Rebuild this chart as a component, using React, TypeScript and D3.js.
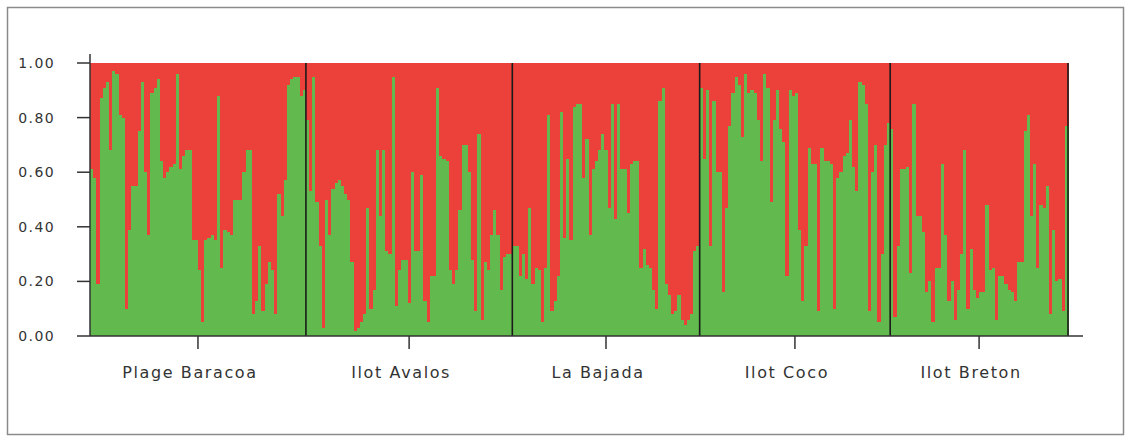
import React from "react";
import * as d3 from "d3";

const populations = ["Plage Baracoa", "Ilot Avalos", "La Bajada", "Ilot Coco", "Ilot Breton"];

// proportion of green cluster (q) for each individual; red = 1 - q
const plageBaracoa = [
  0.61, 0.58, 0.19, 0.87, 0.91, 0.93, 0.68, 0.97, 0.96, 0.81, 0.80, 0.10, 0.39, 0.55, 0.55, 0.75,
  0.93, 0.60, 0.37, 0.89, 0.91, 0.94, 0.64, 0.58, 0.60, 0.62, 0.63, 0.96, 0.61, 0.66, 0.68,
  0.68, 0.35, 0.35, 0.24, 0.05, 0.35, 0.36, 0.37, 0.35, 0.88, 0.25, 0.39, 0.38, 0.37, 0.50, 0.50,
  0.50, 0.60, 0.68, 0.68, 0.08, 0.13, 0.33, 0.09, 0.19, 0.27, 0.24, 0.08, 0.52, 0.44, 0.57, 0.92,
  0.94, 0.95, 0.95, 0.88, 0.90,
];
const ilotAvalos = [
  0.79, 0.53, 0.95, 0.49, 0.33, 0.03, 0.50, 0.37, 0.54, 0.56, 0.57, 0.55, 0.52, 0.50, 0.27, 0.02,
  0.03, 0.05, 0.08, 0.47, 0.10, 0.17, 0.68, 0.44, 0.68, 0.31, 0.30, 0.95, 0.11, 0.24, 0.28, 0.28,
  0.12, 0.60, 0.31, 0.31, 0.59, 0.13, 0.05, 0.22, 0.22, 0.91, 0.66, 0.65, 0.64, 0.24, 0.19, 0.24,
  0.46, 0.70, 0.70, 0.60, 0.28, 0.09, 0.74, 0.06, 0.27, 0.24, 0.37, 0.46, 0.37, 0.17, 0.29, 0.30,
  0.30,
];
const laBajada = [
  0.33, 0.33, 0.22, 0.30, 0.21, 0.47, 0.19, 0.25, 0.24, 0.05, 0.25, 0.81, 0.09, 0.13, 0.22, 0.82,
  0.36, 0.65, 0.35, 0.84, 0.85, 0.85, 0.58, 0.72, 0.37, 0.61, 0.64, 0.68, 0.74, 0.68, 0.47, 0.85,
  0.43, 0.85, 0.61, 0.61, 0.45, 0.63, 0.64, 0.64, 0.25, 0.32, 0.26, 0.25, 0.17, 0.10, 0.86, 0.91,
  0.19, 0.15, 0.08, 0.09, 0.15, 0.06, 0.04, 0.06, 0.08, 0.31, 0.33,
];
const ilotCoco = [
  0.91, 0.65, 0.90, 0.33, 0.86, 0.60, 0.60, 0.16, 0.47, 0.77, 0.89, 0.95, 0.92, 0.73, 0.96, 0.89,
  0.90, 0.89, 0.79, 0.64, 0.96, 0.91, 0.49, 0.79, 0.90, 0.76, 0.71, 0.22, 0.90, 0.88, 0.89, 0.39,
  0.13, 0.33, 0.69, 0.63, 0.63, 0.09, 0.69, 0.64, 0.64, 0.63, 0.10, 0.58, 0.60, 0.66, 0.67, 0.79,
  0.62, 0.53, 0.93, 0.92, 0.85, 0.09, 0.60, 0.70, 0.05, 0.30, 0.70, 0.78,
];
const ilotBreton = [
  0.76, 0.07, 0.33, 0.61, 0.61, 0.62, 0.23, 0.85, 0.44, 0.44, 0.38, 0.16, 0.20, 0.05, 0.25, 0.25,
  0.63, 0.37, 0.13, 0.20, 0.06, 0.17, 0.30, 0.68, 0.10, 0.32, 0.17, 0.14, 0.16, 0.16, 0.48, 0.24,
  0.25, 0.06, 0.22, 0.22, 0.19, 0.17, 0.16, 0.13, 0.27, 0.27, 0.75, 0.81, 0.44, 0.63, 0.25, 0.48,
  0.47, 0.55, 0.08, 0.39, 0.20, 0.21, 0.09, 0.77,
];

const seriesByPop = [plageBaracoa, ilotAvalos, laBajada, ilotCoco, ilotBreton];
const yTicks = [0, 0.2, 0.4, 0.6, 0.8, 1.0];

const W = 1131;
const H = 441;
const M = { left: 90, right: 1068, top: 63, bottom: 336 };
const GREEN = "#62B94D";
const RED = "#EC403A";
const FONT = "'DejaVu Sans', Verdana, sans-serif";

export default function App() {
  const individuals = seriesByPop.flatMap((arr, p) => arr.map((q) => ({ p, q })));
  const n = individuals.length;
  const x = d3.scaleBand<number>().domain(d3.range(n)).range([M.left, M.right]).padding(0);
  const y = d3.scaleLinear().domain([0, 1]).range([M.bottom, M.top]);
  const bw = x.bandwidth();

  const bounds: { start: number; end: number }[] = [];
  let acc = 0;
  seriesByPop.forEach((arr) => {
    bounds.push({ start: acc, end: acc + arr.length });
    acc += arr.length;
  });
  const xStart = (i: number) => x(i) as number;
  const xEnd = (i: number) => (i >= n ? M.right : (x(i) as number));

  return (
    <svg
      width={W}
      height={H}
      style={{ position: "absolute", left: 0, top: 0, background: "#fff" }}
    >
      <rect x={7.5} y={7.5} width={1116} height={427} fill="#fff" stroke="#8a8a8a" strokeWidth={1.5} />
      <g shapeRendering="crispEdges">
        {individuals.map((d, i) => (
          <g key={i}>
            <rect x={xStart(i)} y={y(1)} width={bw + 0.6} height={y(d.q) - y(1)} fill={RED} />
            <rect x={xStart(i)} y={y(d.q)} width={bw + 0.6} height={y(0) - y(d.q)} fill={GREEN} />
          </g>
        ))}
      </g>
      {/* population separators */}
      {bounds.map((b, k) => (
        <line
          key={"sep" + k}
          x1={xEnd(b.end)}
          x2={xEnd(b.end)}
          y1={y(1)}
          y2={y(0)}
          stroke="#1b1b1b"
          strokeWidth={1.6}
        />
      ))}
      {/* y axis */}
      <line x1={M.left} x2={M.left} y1={y(1) - 9} y2={y(0)} stroke="#333" strokeWidth={1.5} />
      {yTicks.map((t) => (
        <g key={"yt" + t}>
          <line x1={M.left - 13} x2={M.left} y1={y(t)} y2={y(t)} stroke="#333" strokeWidth={1.5} />
          <text
            x={55}
            y={y(t)}
            dy="0.35em"
            textAnchor="end"
            fontFamily={FONT}
            fontSize={14}
            letterSpacing={1.4}
            fill="#333"
          >
            {t.toFixed(2)}
          </text>
        </g>
      ))}
      {/* x axis */}
      <line x1={M.left} x2={1083} y1={y(0)} y2={y(0)} stroke="#333" strokeWidth={1.5} />
      {bounds.map((b, k) => {
        const cx = (xStart(b.start) + xEnd(b.end)) / 2;
        return (
          <g key={"pl" + k}>
            <line x1={cx} x2={cx} y1={y(0)} y2={y(0) + 13} stroke="#333" strokeWidth={1.5} />
            <text
              x={cx - 8}
              y={378}
              textAnchor="middle"
              fontFamily={FONT}
              fontSize={16}
              letterSpacing={1.6}
              fill="#333"
            >
              {populations[k]}
            </text>
          </g>
        );
      })}
    </svg>
  );
}
